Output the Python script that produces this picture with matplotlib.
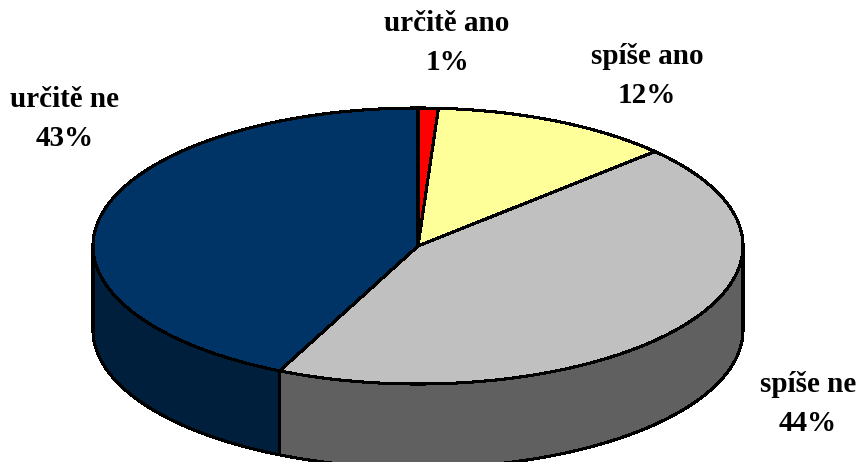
#!/usr/bin/env python3
"""3D-look pie chart, drawn in pixel-like data coordinates."""

import numpy as np
import matplotlib
matplotlib.use("Agg")
import matplotlib.pyplot as plt
from matplotlib.patches import Polygon

plt.rcParams["font.family"] = ["Liberation Serif", "DejaVu Serif"]

LABELS = ["určitě ano", "spíše ano", "spíše ne", "určitě ne"]
VALUES = [1, 12, 44, 43]
TOP_COLORS = ["#FF0000", "#FFFF99", "#C0C0C0", "#003366"]
SIDE_COLORS = ["#800000", "#80804D", "#606060", "#001F3D"]
LABEL_POS = [(447, 43), (647, 76), (808, 404), (65, 119)]

CX, CY = 418, 246
RX, RY = 325, 138
DEPTH = 84


def rim(t, drop=0.0):
    # t is the fraction of the circle, clockwise from twelve o'clock
    a = 2 * np.pi * np.asarray(t)
    return np.column_stack([CX + RX * np.sin(a), CY - RY * np.cos(a) + drop])


fig = plt.figure(figsize=(8.6, 4.62), dpi=100)
ax = fig.add_axes([0, 0, 1, 1])
ax.set_xlim(0, 860)
ax.set_ylim(462, 0)
ax.axis("off")

edges = np.cumsum([0] + VALUES) / sum(VALUES)

# side walls, only the front half of the rim (0.25 - 0.75) can be seen
for t0, t1, col in zip(edges[:-1], edges[1:], SIDE_COLORS):
    lo, hi = max(t0, 0.25), min(t1, 0.75)
    if hi <= lo:
        continue
    t = np.linspace(lo, hi, 200)
    pts = np.vstack([rim(t), rim(t[::-1], DEPTH)])
    ax.add_patch(Polygon(pts, closed=True, facecolor=col, edgecolor="black",
                         lw=1.5, joinstyle="round", antialiased=False))

# top face
for t0, t1, col in zip(edges[:-1], edges[1:], TOP_COLORS):
    t = np.linspace(t0, t1, 300)
    pts = np.vstack([[CX, CY], rim(t)])
    ax.add_patch(Polygon(pts, closed=True, facecolor=col, edgecolor="black",
                         lw=1.5, joinstyle="round", antialiased=False))

for name, val, (x, y) in zip(LABELS, VALUES, LABEL_POS):
    ax.text(x, y, f"{name}\n{val}%", ha="center", va="center", fontsize=21,
            fontweight="bold", linespacing=1.55, color="black")

fig.savefig("out.png", dpi=100)
